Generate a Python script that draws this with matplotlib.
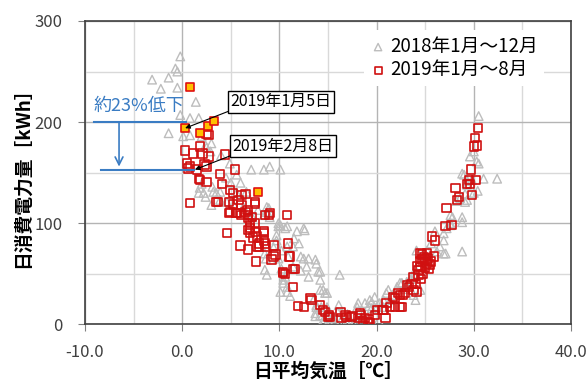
#!/usr/bin/python
# -*- coding: utf-8 -*-
# plot.py  - daily power use vs. daily mean temperature

import matplotlib
matplotlib.use('Agg')
import matplotlib.pyplot as plt
import numpy as np

plt.rcParams['font.family'] = ['Noto Sans CJK JP', 'DejaVu Sans']

# 2018 (Jan - Dec): daily mean temperature [C], daily energy [kWh]
t2018 = [-0.2, -0.7, -0.5, -3.1, -1.4, -2.2, -0.5, 1.4, -1.4, -0.2, 0.8, 1.7, 0.8, 2.0,
         3.0, 2.5, 4.0, 4.9, 7.1, 1.8, 3.2, 0.1, 2.4, 2.9, 5.6, 8.4, 9.0, 10.1, 2.0, 3.1,
         3.5, 3.9, 2.2, 5.6, 6.6, 4.6, 5.3, 3.9, 3.0, 6.3, 7.8, 8.7, 7.2, 8.4, 9.0, 1.7,
         2.4, 8.7, 8.9, 9.9, 10.6, 11.8, 8.5, 8.7, 10.4, 10.8, 11.1, 9.7, 10.2, 9.4, 10.9,
         11.4, 10.8, 12.6, 10.1, 10.8, 11.4, 13.0, 13.7, 12.2, 14.2, 16.2, 14.2, 14.5, 14.9,
         13.5, 10.4, 14.9, 13.7, 14.5, 15.2, 16.3, 16.9, 17.6, 18.3, 18.8, 19.3, 19.8, 20.3,
         21.4, 21.0, 22.1, 22.4, 23.1, 23.8, 24.0, 24.1, 25.2, 24.0, 24.5, 26.2, 26.5, 26.9,
         27.2, 27.6, 27.8, 28.8, 28.8, 28.6, 29.3, 29.1, 30.0, 30.4, 19.5, 20.7, 18.0, 16.1,
         30.5, 29.6, 30.0, 30.5, 28.8, 29.0, 31.0, 32.4, 29.3, 30.3, 29.8, 29.3, 29.1, 28.2,
         27.6, 28.8, 27.6, 26.9, 26.9, 27.1, 24.8, 23.1, 23.8, 21.2, 20.7, 13.8, 14.0, 14.7,
         13.8, 14.2, 15.4, 15.7, 16.6, 17.3, 18.1, 19.2, 19.5, 20.0, 20.2, 21.6, 22.6, 23.3,
         24.0, 9.7, 8.5, 8.6, 9.9, 10.2, 10.6, 12.5, 12.8, 13.0, 12.2, 10.8, 10.1, 14.2,
         13.8, 13.7, 14.3, 15.1, 14.5, 12.5, 9.9, 17.0, 18.5, 19.0, 17.8, 18.6, 16.0, 15.5,
         11.5, 12.0, 6.0, 4.5, 5.0, 23.5, 22.9, 25.6, 26.0]
e2018 = [265, 253, 250, 242, 244, 233, 234, 220, 189, 207, 204, 204, 187, 186,
         179, 175, 167, 159, 153, 135, 131, 186, 177, 171, 148, 153, 156, 153, 139, 136,
         130, 131, 130, 130, 131, 121, 118, 123, 118, 116, 113, 116, 106, 108, 106, 130,
         126, 111, 115, 97, 95, 92, 54, 49, 44, 32, 28, 83, 73, 76, 67,
         57, 97, 93, 98, 77, 77, 65, 64, 67, 52, 49, 44, 34, 31,
         24, 41, 17, 8, 1, 0, 3, 2, 1, 6, 21, 24, 27, 21,
         24, 31, 37, 41, 42, 50, 54, 73, 73, 24, 34, 72, 77, 70,
         95, 100, 106, 101, 72, 125, 123, 129, 130, 132, 16, 17, 17, 19,
         206, 166, 171, 159, 149, 148, 144, 144, 142, 161, 143, 138, 121, 122,
         108, 106, 98, 90, 83, 70, 70, 39, 29, 34, 24, 60, 52, 31,
         17, 9, 6, 3, 1, 0, 21, 18, 22, 17, 4, 29, 41, 40,
         49, 88, 70, 65, 65, 55, 47, 65, 57, 47, 53, 37, 32, 34,
         19, 11, 17, 8, 4, 95, 100, 10, 2, 0, 3, 10, 12, 6,
         85, 80, 140, 145, 140, 45, 35, 80, 92]

# 2019 (Jan - Aug)
t2019 = [2.7, 2.5, 0.3, 1.8, 1.1, 2.1, 2.7, 0.5, 0.6, 1.5, 2.5, 1.8, 2.5, 4.4, 5.4,
         3.9, 4.1, 4.9, 5.2, 6.5, 0.8, 2.3, 1.7, 6.1, 7.5, 0.8, 3.5, 4.8, 5.8, 6.1,
         6.0, 6.7, 7.2, 8.5, 9.0, 10.8, 7.0, 3.7, 5.2, 4.9, 5.6, 6.5, 6.8, 7.5, 7.5,
         8.9, 4.6, 6.0, 6.8, 6.8, 7.5, 7.3, 8.4, 8.4, 9.4, 7.7, 8.6, 7.6, 9.2, 9.4,
         10.6, 10.9, 11.1, 11.4, 11.4, 11.9, 4.8, 5.5, 6.1, 6.8, 7.0, 7.0, 7.7, 8.4,
         7.9, 8.5, 7.9, 9.6, 10.4, 13.2, 12.5, 14.2, 14.7, 15.0, 13.3, 14.5, 15.1,
         16.3, 16.8, 16.4, 17.5, 18.3, 18.8, 19.2, 18.6, 19.3, 19.8, 20.1, 20.7, 20.9,
         21.4, 21.9, 22.4, 21.9, 22.4, 22.9, 23.3, 23.6, 24.0, 24.1, 24.3, 24.5, 24.5,
         25.0, 25.0, 25.5, 24.7, 25.2, 25.7, 27.2, 28.3, 27.1, 27.7, 26.0, 24.5, 24.7,
         25.2, 25.9, 24.3, 24.8, 23.8, 23.1, 23.8, 22.2, 22.7, 21.7, 21.0, 22.6, 20.6,
         30.4, 30.1, 30.0, 30.3, 29.7, 29.5, 30.2, 29.3, 29.6, 28.1, 28.5, 29.8, 11.0,
         11.6, 10.4, 15.2, 16.9, 17.4, 18.1, 18.4, 19.1, 24.9, 25.3, 24.2, 25.6, 24.6,
         25.4]
e2019 = [187, 188, 172, 176, 169, 169, 166, 159, 154, 153, 156, 143, 141, 168, 153,
         149, 139, 133, 130, 129, 156, 158, 144, 128, 121, 120, 121, 121, 123, 118,
         110, 113, 106, 108, 110, 108, 100, 121, 119, 111, 110, 111, 105, 100, 119,
         108, 90, 78, 74, 93, 91, 86, 92, 83, 78, 77, 77, 62, 64, 67,
         50, 80, 67, 55, 37, 18, 110, 110, 108, 108, 95, 90, 87, 90,
         80, 80, 77, 69, 51, 26, 17, 19, 12, 7, 24, 14, 9,
         12, 9, 6, 8, 11, 6, 5, 3, 1, 9, 14, 14, 6,
         17, 17, 17, 26, 29, 31, 37, 40, 40, 32, 49, 57, 62,
         64, 56, 59, 69, 70, 87, 115, 123, 97, 98, 83, 70, 64,
         60, 67, 54, 50, 47, 39, 34, 31, 29, 27, 21, 17, 14,
         194, 184, 176, 177, 153, 143, 143, 139, 139, 135, 126, 128, 67,
         55, 52, 7, 7, 7, 6, 9, 2, 66, 65, 58, 62, 45,
         55]

# highlighted 2019 days
t_hl = [0.8, 0.3, 1.8, 2.7, 3.3, 7.8]
e_hl = [235, 194, 189, 196, 201, 131]

# labelled days: (label, temperature, kWh)
jan5 = ('2019年1月5日', 0.3, 194)
feb8 = ('2019年2月8日', 1.3, 153)

fig, ax = plt.subplots(figsize=(5.88, 3.86), dpi=100)
fig.subplots_adjust(left=0.1446, right=0.9711, bottom=0.1598, top=0.9456)

ax.scatter(t2018, e2018, s=38, marker='^', facecolors='none',
           edgecolors='#BDBDBD', linewidths=1.0, zorder=3,
           label='2018年1月～12月')
ax.scatter(t2019, e2019, s=36, marker='s', facecolors='none',
           edgecolors='#D01010', linewidths=1.2, zorder=4,
           label='2019年1月～8月')
ax.scatter(t_hl, e_hl, s=36, marker='s', facecolors='#FFC000',
           edgecolors='#E01010', linewidths=1.2, zorder=5)

ax.set_xlim(-10, 40)
ax.set_ylim(0, 300)
ax.set_xticks(np.arange(-10, 41, 10))
ax.set_xticklabels(['%.1f' % v for v in np.arange(-10, 41, 10)])
ax.set_yticks([0, 100, 200, 300])
ax.set_xticks(np.arange(-5, 40, 10), minor=True)
ax.set_yticks([50, 150, 250], minor=True)
ax.grid(which='major', color='#B4B4B4', lw=1.0, zorder=0)
ax.grid(which='minor', color='#D9D9D9', lw=1.0, zorder=0)
ax.tick_params(which='major', length=5, color='#808080', labelsize=12,
               labelcolor='#404040')
ax.tick_params(axis='x', which='major', pad=9)
ax.tick_params(axis='y', which='major', pad=11)
ax.tick_params(which='minor', length=0)
for sp in ax.spines.values():
    sp.set_color('#404040')
    sp.set_linewidth(1.2)
ax.set_axisbelow(True)

ax.set_xlabel('日平均気温［℃］', fontsize=13.5, fontweight='bold', labelpad=1)
ax.set_ylabel('日消費電力量［kWh］', fontsize=13.5, fontweight='bold', labelpad=2)

leg = ax.legend(loc='upper right', bbox_to_anchor=(0.963, 1.0), fontsize=13.5,
                frameon=True, edgecolor='none', framealpha=1, fancybox=False,
                handletextpad=0.2, labelspacing=0.12, borderpad=0.3,
                handlelength=0.9, markerscale=0.85)

# callouts for the two days
for (txt, tx, ty), pos in ((jan5, (10.2, 220)), (feb8, (10.4, 176))):
    ax.annotate(txt, xy=(tx, ty), xytext=pos, fontsize=11.5, ha='center', va='center',
                bbox=dict(boxstyle='square,pad=0.15', fc='white', ec='black', lw=1),
                arrowprops=dict(arrowstyle='-|>', color='black', lw=0.8,
                                mutation_scale=7, relpos=(0, 0), shrinkA=0, shrinkB=0),
                zorder=6)

# about 23% drop between the two days
blue = '#3A7CC3'
ax.plot([-9.1, 0.4], [200, 200], color=blue, lw=1.5, zorder=6)
ax.plot([-8.4, 1.2], [153, 153], color=blue, lw=1.5, zorder=6)
ax.annotate('', xy=(-6.5, 156), xytext=(-6.5, 200),
            arrowprops=dict(arrowstyle='->', color=blue, lw=1.2, mutation_scale=14,
                            shrinkA=0, shrinkB=0), zorder=6)
ax.text(-4.5, 216, '約23%低下', color=blue, fontsize=13, ha='center', va='center',
        zorder=6)

fig.savefig('out.png', dpi=100)
